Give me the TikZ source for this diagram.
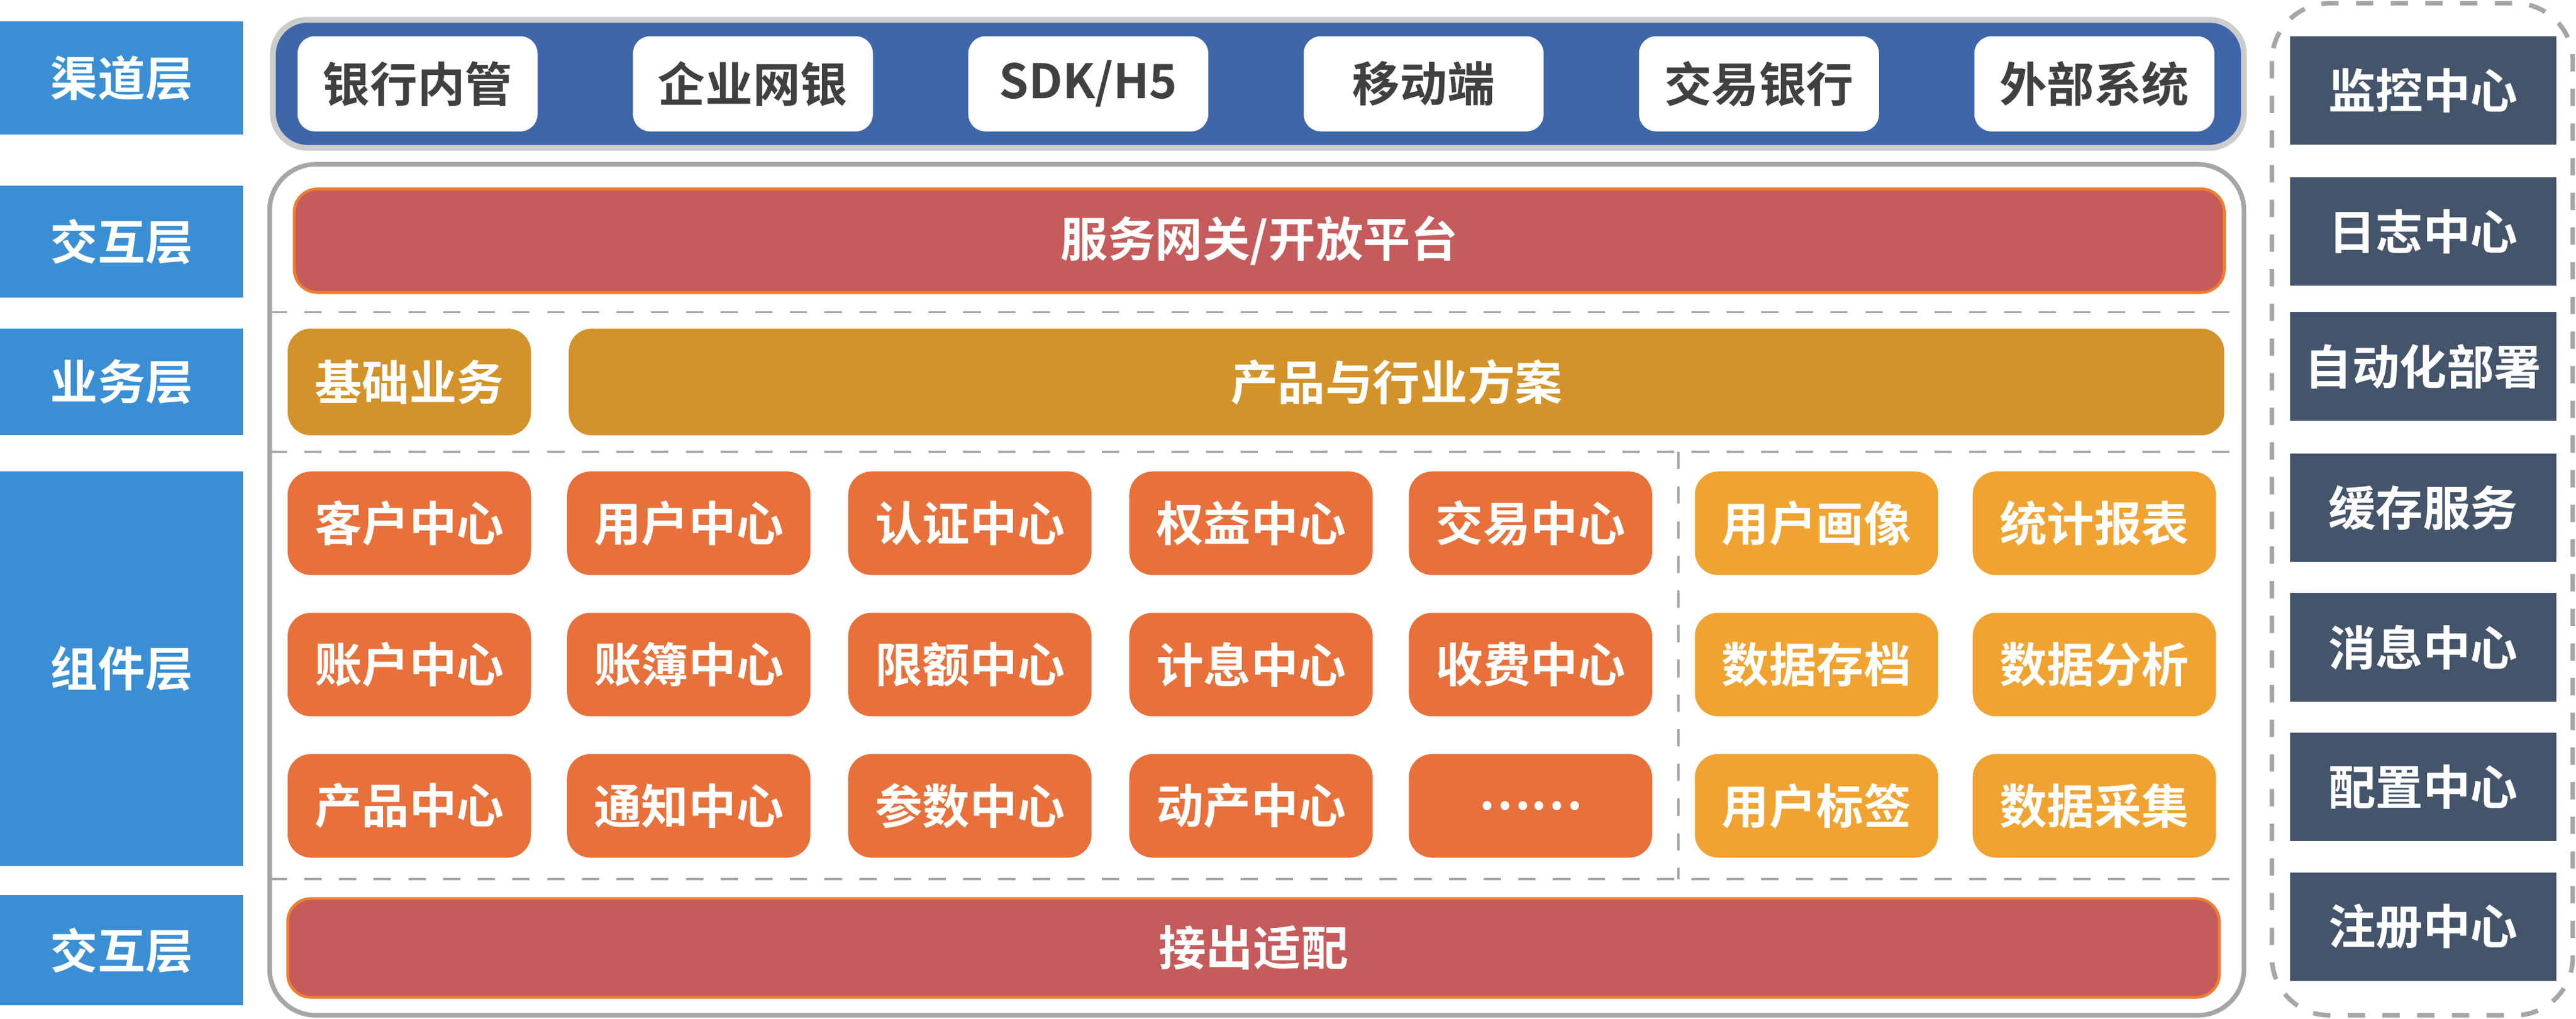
\documentclass[tikz,border=0pt]{standalone}
\usepackage{fontspec}
\setmainfont{Noto Sans CJK SC}[BoldFont={Noto Sans CJK SC Bold}]
\begin{document}
\begin{tikzpicture}[x=0.01cm,y=-0.01cm,
 fnt/.style={font=\bfseries\fontsize{8.2}{9.5}\selectfont},
 lab/.style={fill=cLab,text=white,fnt},
 chan/.style={fill=white,rounded corners=3pt,text=cTxt,fnt},
 bar/.style={fill=cRed,draw=cOr,line width=0.5pt,rounded corners=4pt,text=white,fnt},
 biz/.style={fill=cGold,rounded corners=4pt,text=white,fnt},
 comp/.style={fill=cOrg,rounded corners=4pt,text=white,fnt},
 comp2/.style={fill=cYel,rounded corners=4pt,text=white,fnt},
 side/.style={fill=cSide,text=white,fnt},
 dsh/.style={draw=gray!70,dashed,line width=0.4pt}]
\definecolor{cLab}{HTML}{3A8FD4}
\definecolor{cChan}{HTML}{3F66A8}
\definecolor{cTxt}{HTML}{404040}
\definecolor{cRed}{HTML}{C55B5B}
\definecolor{cOr}{HTML}{ED7D31}
\definecolor{cGold}{HTML}{D4922A}
\definecolor{cOrg}{HTML}{E8703A}
\definecolor{cYel}{HTML}{F0A330}
\definecolor{cSide}{HTML}{44546A}
\useasboundingbox (0,0) rectangle (1567,620);
% left labels
\path[lab] (0,13) rectangle node(l1){渠道层} (148,82);
\path[lab] (0,113) rectangle node(l2){交互层} (148,181);
\path[lab] (0,200) rectangle node(l3){业务层} (148,265);
\path[lab] (0,287) rectangle node(l4){组件层} (148,527);
\path[lab] (0,545) rectangle node(l5){交互层} (148,612);
% channel
\path[fill=cChan,draw=gray!40,line width=1pt,rounded corners=6pt] (166,12) rectangle (1365,90);
\foreach \x/\t [count=\i] in {181/银行内管,385/企业网银,589/{SDK/H5},793/移动端,997/交易银行,1201/外部系统}
  \path[chan] (\x,22) rectangle node(c\i){\t} (\x+146,80);
% main container
\draw[gray!70,line width=0.8pt,rounded corners=8pt] (164,100) rectangle (1365,618);
\path[bar] (179,115) rectangle node(gw){服务网关/开放平台} (1353,178);
\draw[dsh] (164,190) -- (1365,190);
\path[biz] (175,200) rectangle node(b1){基础业务} (323,265);
\path[biz] (346,200) rectangle node(b2){产品与行业方案} (1353,265);
\draw[dsh] (164,275) -- (1365,275);
\draw[dsh] (1021,275) -- (1021,535);
\draw[dsh] (164,535) -- (1365,535);
\foreach \y/\a/\b/\c/\d/\e [count=\r] in {287/客户中心/用户中心/认证中心/权益中心/交易中心,373/账户中心/账簿中心/限额中心/计息中心/收费中心,459/产品中心/通知中心/参数中心/动产中心/……}{
  \path[comp] (175,\y) rectangle node(g\r a){\a} (323,\y+63);
  \path[comp] (345,\y) rectangle node(g\r b){\b} (493,\y+63);
  \path[comp] (516,\y) rectangle node(g\r c){\c} (664,\y+63);
  \path[comp] (687,\y) rectangle node(g\r d){\d} (835,\y+63);
  \path[comp] (857,\y) rectangle node(g\r e){\e} (1005,\y+63);
}
\foreach \y/\a/\b [count=\r] in {287/用户画像/统计报表,373/数据存档/数据分析,459/用户标签/数据采集}{
  \path[comp2] (1031,\y) rectangle node(h\r a){\a} (1179,\y+63);
  \path[comp2] (1200,\y) rectangle node(h\r b){\b} (1348,\y+63);
}
\path[bar] (175,547) rectangle node(out){接出适配} (1350,607);
% right
\draw[dsh,line width=0.8pt,rounded corners=10pt] (1382,2) rectangle (1565,618);
\foreach \y/\t [count=\i] in {22/监控中心,108/日志中心,190/自动化部署,276/缓存服务,361/消息中心,446/配置中心,531/注册中心}
  \path[side] (1393,\y) rectangle node(s\i){\t} (1555,\y+66);
\end{tikzpicture}
\end{document}
